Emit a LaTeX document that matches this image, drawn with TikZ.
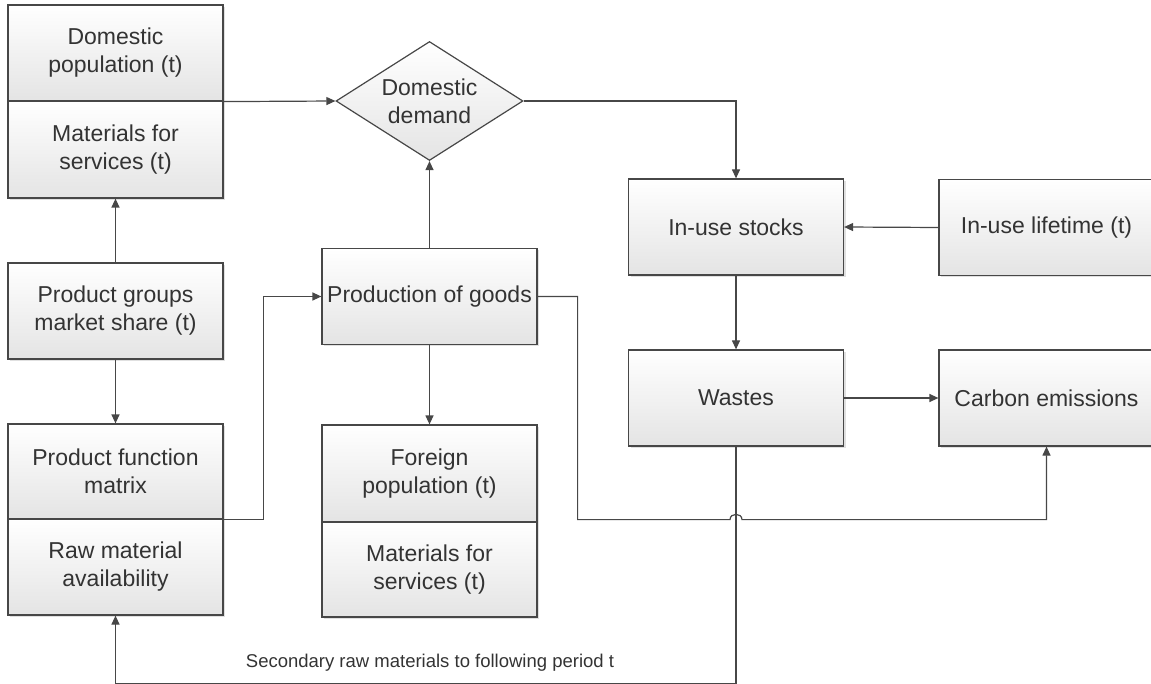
\documentclass[tikz,border=0pt]{standalone}
\usepackage{fontspec}
\setmainfont{Liberation Sans}
\usepackage{tikz}
\usetikzlibrary{arrows.meta, shapes.geometric, shadows}
\definecolor{edge}{HTML}{474747}
\definecolor{shade}{HTML}{E4E4E4}

\begin{document}
\begin{tikzpicture}[
  x=1pt, y=-1pt,
  >={Triangle[length=9pt, width=8pt]},
  line width=1.2pt, color=edge,
  every node/.style={align=center, text=black!80, font=\fontsize{23}{28}\selectfont},
  box/.style={draw, rectangle, minimum width=215pt, minimum height=96pt, inner sep=2pt,
    top color=white, bottom color=shade,
    drop shadow={shadow xshift=2pt, shadow yshift=-2pt, fill=black, opacity=0.12}},
  dia/.style={draw, diamond, aspect=1.57, minimum width=187pt, minimum height=119pt, inner sep=0pt,
    top color=white, bottom color=shade}
]
\clip (0,0) rectangle (1151,684);

\node[box] (dpop) at (115.5,53) {Domestic\\population (t)};
\node[box, minimum height=97pt] (dmat) at (115.5,149.5) {Materials for\\services (t)};
\node[dia] (demand) at (429.5,101) {Domestic\\demand};
\node[box] (pgroups) at (115.5,311) {Product groups\\market share (t)};
\node[box, minimum height=95pt] (pfunc) at (115.5,471.5) {Product function\\matrix};
\node[box] (rawmat) at (115.5,567) {Raw material\\availability};
\node[box] (prod) at (429.5,296.5) {Production of goods};
\node[box, minimum height=97pt] (fpop) at (429.5,473.5) {Foreign\\population (t)};
\node[box, minimum height=95pt] (fmat) at (429.5,569.5) {Materials for\\services (t)};
\node[box] (stocks) at (736,227) {In-use stocks};
\node[box] (life) at (1046.5,227.5) {In-use lifetime (t)};
\node[box] (wastes) at (736,398) {Wastes};
\node[box] (carbon) at (1046.5,398) {Carbon emissions};
\node[font=\fontsize{18.5}{22}\selectfont] (lbl) at (430,663) {Secondary raw materials to following period t};

\coordinate (hopa) at ([xshift=-6pt]wastes.south |- pfunc.south);
\coordinate (hopb) at ([xshift=6pt]wastes.south |- pfunc.south);

\draw[->] (dpop.south east) -- (demand.west);
\draw[->] (demand.east) -| (stocks.north);
\draw[->] (life.west) -- (stocks.east);
\draw[->] (stocks) -- (wastes);
\draw[->] (wastes) -- (carbon);
\draw[->] (pgroups) -- (dmat);
\draw[->] (pgroups) -- (pfunc);
\draw[->] (pfunc.south east) -- ++(40,0) |- (prod.west);
\draw[->] (prod) -- (demand);
\draw[->] (prod) -- (fpop);
\draw[->] (prod.east) -- ++(40,0) |- (hopa)
  .. controls ([yshift=7pt]hopa) and ([yshift=7pt]hopb) .. (hopb) -| (carbon.south);
\draw[->] (wastes.south) -- ++(0,237) -| (rawmat.south);
\end{tikzpicture}
\end{document}
